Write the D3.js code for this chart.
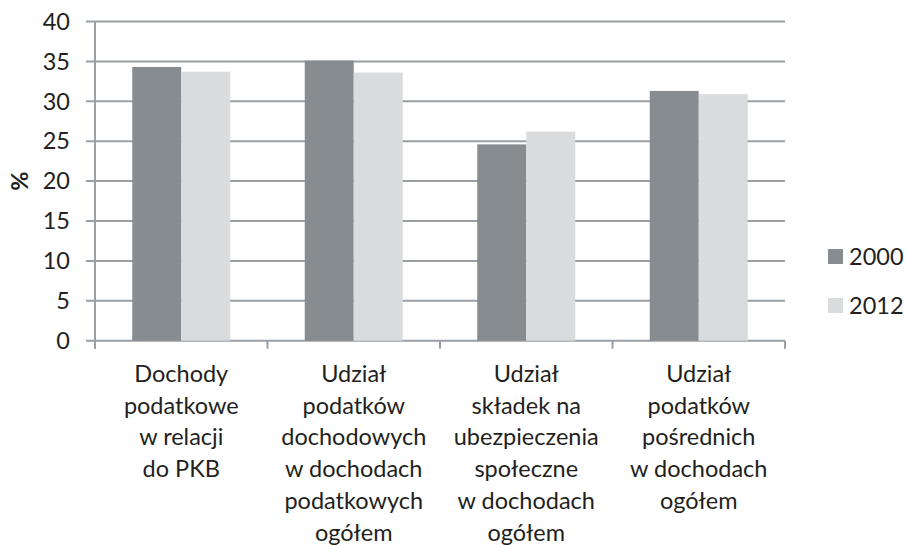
<!DOCTYPE html>
<html>
<head>
<meta charset="utf-8">
<script src="https://cdn.jsdelivr.net/npm/d3@7"></script>
<style>
  body { margin: 0; background: #fff; }
  text { font-family: Lato, "Open Sans", sans-serif; fill: #231f20; }
</style>
</head>
<body>
<script>
let w = 905;
let h = 545;

// data
let categories = [
  ["Dochody", "podatkowe", "w relacji", "do PKB"],
  ["Udział", "podatków", "dochodowych", "w dochodach", "podatkowych", "ogółem"],
  ["Udział", "składek na", "ubezpieczenia", "społeczne", "w dochodach", "ogółem"],
  ["Udział", "podatków", "pośrednich", "w dochodach", "ogółem"]
];
let years = ["2000", "2012"];
let values2000 = [34.3, 35.1, 24.6, 31.3];
let values2012 = [33.7, 33.6, 26.2, 30.9];
let yTicks = [0, 5, 10, 15, 20, 25, 30, 35, 40];
let colors = ["#878c91", "#dadbdd"];

let plotLeft = 95, plotRight = 785, plotTop = 21.5, plotBottom = 340.7;
let gridColor = "#9a9fa5";
let fontSize = "23.5px";

let svg = d3.select("body").append("svg").attr("width", w).attr("height", h);

let x = d3.scaleBand().domain(d3.range(categories.length)).range([plotLeft, plotRight]);
let x1 = d3.scaleBand().domain(years).range([0, x.bandwidth()]).paddingInner(0).paddingOuter(0.76);
let y = d3.scaleLinear().domain([0, 40]).range([plotBottom, plotTop]);

// gridlines
svg.append("g")
  .selectAll("line")
  .data(yTicks)
  .enter()
  .append("line")
  .attr("x1", plotLeft - 9)
  .attr("x2", plotRight)
  .attr("y1", d => y(d))
  .attr("y2", d => y(d))
  .attr("stroke", gridColor)
  .attr("stroke-width", 2);

// y tick labels
svg.append("g")
  .selectAll("text")
  .data(yTicks)
  .enter()
  .append("text")
  .text(d => d)
  .attr("x", 70)
  .attr("y", d => y(d))
  .attr("dy", "0.35em")
  .attr("text-anchor", "end")
  .style("font-size", fontSize);

// bars
let series = [values2000, values2012];
series.forEach((vals, s) => {
  svg.append("g")
    .selectAll("rect")
    .data(vals)
    .enter()
    .append("rect")
    .attr("x", (d, i) => x(i) + x1(years[s]))
    .attr("width", x1.bandwidth())
    .attr("y", d => y(d))
    .attr("height", d => y(0) - y(d))
    .attr("fill", colors[s]);
});

// axes
svg.append("line")
  .attr("x1", plotLeft).attr("x2", plotLeft)
  .attr("y1", plotTop).attr("y2", plotBottom + 8)
  .attr("stroke", gridColor).attr("stroke-width", 2);
svg.append("g")
  .selectAll("line")
  .data(d3.range(categories.length + 1))
  .enter()
  .append("line")
  .attr("x1", d => plotLeft + d * x.bandwidth())
  .attr("x2", d => plotLeft + d * x.bandwidth())
  .attr("y1", plotBottom)
  .attr("y2", plotBottom + 8)
  .attr("stroke", gridColor).attr("stroke-width", 2);

// category labels
let cat = svg.append("g")
  .selectAll("text")
  .data(categories)
  .enter()
  .append("text")
  .attr("text-anchor", "middle")
  .style("font-size", fontSize);
cat.selectAll("tspan")
  .data((d, i) => d.map(t => ({ t: t, i: i })))
  .enter()
  .append("tspan")
  .attr("x", d => x(d.i) + x.bandwidth() / 2)
  .attr("y", (d, j) => 382 + j * 31.7)
  .text(d => d.t);

// y axis title
svg.append("text")
  .attr("transform", "translate(28," + (plotTop + plotBottom) / 2 + ") rotate(-90)")
  .attr("text-anchor", "middle")
  .style("font-size", fontSize)
  .style("font-weight", "bold")
  .text("%");

// legend
let legend = svg.append("g")
  .selectAll("g")
  .data(years)
  .enter()
  .append("g")
  .attr("transform", (d, i) => "translate(828," + (249 + i * 49) + ")");
legend.append("rect")
  .attr("width", 15).attr("height", 15)
  .attr("fill", (d, i) => colors[i]);
legend.append("text")
  .attr("x", 21).attr("y", 7.5).attr("dy", "0.35em")
  .style("font-size", fontSize)
  .text(d => d);
</script>
</body>
</html>
